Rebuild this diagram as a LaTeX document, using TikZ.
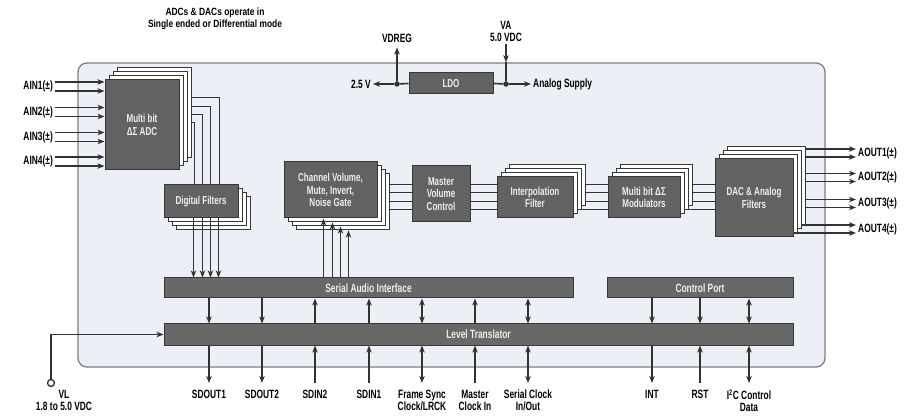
\documentclass[tikz,border=0pt]{standalone}
\usepackage{fontspec}
\setmainfont{Liberation Sans}[FakeStretch=0.7]
\newfontfamily\notefont{Liberation Sans}[FakeStretch=0.8]
\usepackage{tikz}
\usetikzlibrary{arrows.meta, calc, shadows, backgrounds}
\definecolor{csBlock}{RGB}{98,98,98}
\definecolor{csEdge}{RGB}{55,55,55}
\definecolor{csBar}{RGB}{104,104,104}
\definecolor{csWire}{RGB}{50,50,50}
\definecolor{csChip}{RGB}{237,239,247}
\definecolor{csChipEdge}{RGB}{125,125,130}
\definecolor{csText}{RGB}{238,238,238}

\begin{document}
\begin{tikzpicture}[
    x=1pt, y=-1pt,
    font=\bfseries\fontsize{12}{12}\selectfont,
    chip/.style={draw=csChipEdge, line width=1.3pt, fill=csChip, rounded corners=9pt},
    blk/.style={draw=csEdge, fill=csBlock, line width=1pt, text=csText, align=center,
                inner sep=1pt, font=\bfseries\fontsize{11.5}{12.5}\selectfont},
    bar/.style={draw=csEdge, fill=csBar, line width=1pt, text=csText, inner sep=1pt},
    cpy/.style={draw=csEdge, fill=white, line width=1pt},
    upstack/.style={general shadow={cpy, shadow xshift=12pt, shadow yshift=12pt},
                    general shadow={cpy, shadow xshift=8pt, shadow yshift=8pt},
                    general shadow={cpy, shadow xshift=4pt, shadow yshift=4pt}},
    downstack/.style={general shadow={cpy, shadow xshift=12pt, shadow yshift=-12pt},
                      general shadow={cpy, shadow xshift=8pt, shadow yshift=-8pt},
                      general shadow={cpy, shadow xshift=4pt, shadow yshift=-4pt}},
    lbl/.style={inner sep=2pt, align=center, text=black},
    pinlbl/.style={lbl, anchor=north, outer ysep=5pt},
    wire/.style={draw=csWire, line width=1.6pt},
    arr/.style={wire, -{Stealth[length=7pt, width=5.5pt, inset=2pt]}},
    arrb/.style={wire, {Stealth[length=7pt, width=5.5pt, inset=2pt]}-{Stealth[length=7pt, width=5.5pt, inset=2pt]}},
    dot/.style={circle, fill=csWire, inner sep=0pt, minimum size=5.5pt},
    pin/.style={circle, draw=csWire, fill=white, line width=1.3pt, inner sep=0pt, minimum size=7pt}
]
\useasboundingbox (0,0) rectangle (915,419);

\begin{scope}[on background layer]
\node[chip, minimum width=747pt, minimum height=304pt] (chip) at (451.5,215) {};
\end{scope}

\node[lbl, font=\notefont\bfseries\fontsize{10.5}{12}\selectfont] (note) at (215,19)
  {ADCs \& DACs operate in\\Single ended or Differential mode};

% signal blocks
\node[blk, upstack, minimum width=74pt, minimum height=90pt] (adc) at (142,125) {Multi bit\\ΔΣ ADC};
\node[blk, downstack, minimum width=74pt, minimum height=33pt] (df) at (201,201.5) {Digital Filters};
\node[blk, downstack, minimum width=93pt, minimum height=56pt] (cv) at (330.5,190) {Channel Volume,\\Mute, Invert,\\Noise Gate};
\node[blk, minimum width=58pt, minimum height=56pt] (mvc) at (441,194) {Master\\Volume\\Control};
\node[blk, upstack, minimum width=76pt, minimum height=41pt] (ip) at (535,197.5) {Interpolation\\Filter};
\node[blk, upstack, minimum width=72pt, minimum height=41pt] (mod) at (644,197.5) {Multi bit ΔΣ\\Modulators};
\node[blk, upstack, minimum width=78pt, minimum height=78pt] (dac) at (754,198) {DAC \& Analog\\Filters};
\node[blk, minimum width=84pt, minimum height=21pt] (ldo) at (451,83.5) {LDO};

% interface bars
\node[bar, minimum width=409pt, minimum height=20pt] (sai) at (368.5,288) {Serial Audio Interface};
\node[bar, minimum width=186pt, minimum height=20pt] (cp) at (700,288) {Control Port};
\node[bar, minimum width=629pt, minimum height=21pt] (lt) at (478.5,334.5) {Level Translator};

% supply
\node[dot] (vdr) at (397,84) {};
\node[dot] (van) at (506,84) {};
\node[lbl, anchor=east] (v25) at (373,84) {2.5 V};
\node[lbl, anchor=west] (asup) at (531,84) {Analog Supply};
\node[lbl] (vdreg) at (397,38) {VDREG};
\node[lbl] (va) at (506,31.5) {VA\\5.0 VDC};

\begin{scope}[on background layer]
\draw[wire] (vdr) -- (ldo.west);
\draw[wire] (ldo.east) -- (van);
\draw[arr] (vdr) -- (v25.east);
\draw[arr, shorten >=3pt] (vdr) -- (vdreg.south);
\draw[arr] (van) -- (asup.west);
\draw[arr] (va.south) -- (va.south |- chip.north);
\draw[wire] (va.south |- chip.north) -- (van);

% analog inputs
\foreach \i/\y in {1/86.5,2/112,3/137,4/161.5} {
  \node[lbl, anchor=east] (ain\i) at (55,\y) {AIN\i(±)};
  \foreach \d in {-4.5,4.5} {
    \path (ain\i.east) ++(0,\d) coordinate (s);
    \draw[arr] (s) -- (s -| adc.west);
  }
}

% adc to filters
\foreach \dy/\dx in {18/56,27/47,35/39,43/31}
  \draw[wire] ($(adc.north east)+(0,\dy)$) -| ($(df.north west)+(\dx,0)$);

% dac path
\foreach \dy in {23,31,40,48} {
  \path ($(cv.north east)+(0,\dy)$) coordinate (s);
  \draw[wire] (s) -- (s -| mvc.west);
  \draw[wire] (s -| mvc.east) -- (s -| ip.west);
  \draw[wire] (s -| ip.east) -- (s -| mod.west);
  \draw[wire] (s -| mod.east) -- (s -| dac.west);
}

% analog outputs
\foreach \i/\y in {1/153,2/177.5,3/203.5,4/229} {
  \node[lbl, anchor=west] (aout\i) at (856,\y) {AOUT\i(±)};
  \foreach \d in {-4,4} {
    \path (aout\i.west) ++(0,\d) coordinate (s);
    \draw[arr] (s -| dac.center) -- (s);
  }
}
\end{scope}

\foreach \dx in {30,39,47,55} {
  \path ($(df.south west)+(\dx,0)$) coordinate (s);
  \draw[arr] (s) -- (s |- sai.north);
}
\foreach \dx/\dy in {40/0,49/4,57/8,65/12} {
  \path ($(cv.south west)+(\dx,\dy)$) coordinate (s);
  \draw[arr] (s |- sai.north) -- (s);
}

% pins
\foreach \n/\x/\t in {sdo1/209/SDOUT1, sdo2/262/SDOUT2, sdi2/315/SDIN2, sdi1/369/SDIN1,
    fs/422/{Frame Sync\\Clock/LRCK}, mck/475/{Master\\Clock In}, sck/528/{Serial Clock\\In/Out},
    int/652/INT, rst/700/RST, i2c/749/{I\textsuperscript{2}C Control\\Data}}
  \node[pinlbl] (\n) at (\x,383) {\t};
\node[pinlbl] (vl) at (64,383) {VL\\1.8 to 5.0 VDC};
\node[pin] (vlpin) at (51,383) {};

\foreach \n in {sdo1,sdo2} {
  \draw[arr] (sai.south -| \n) -- (lt.north -| \n);
  \draw[arr] (lt.south -| \n) -- (\n.north);
}
\foreach \n in {sdi2,sdi1,mck} {
  \draw[arr] (lt.north -| \n) -- (sai.south -| \n);
  \draw[arr] (\n.north) -- (lt.south -| \n);
}
\foreach \n in {fs,sck} {
  \draw[arrb] (sai.south -| \n) -- (lt.north -| \n);
  \draw[arrb] (lt.south -| \n) -- (\n.north);
}
\draw[arr] (cp.south -| int) -- (lt.north -| int);
\draw[arr] (lt.south -| int) -- (int.north);
\draw[arr] (cp.south -| rst) -- (lt.north -| rst);
\draw[arr] (rst.north) -- (lt.south -| rst);
\draw[arrb] (cp.south -| i2c) -- (lt.north -| i2c);
\draw[arrb] (lt.south -| i2c) -- (i2c.north);
\draw[arr] (vlpin.north) |- (lt.west);
\end{tikzpicture}
\end{document}
